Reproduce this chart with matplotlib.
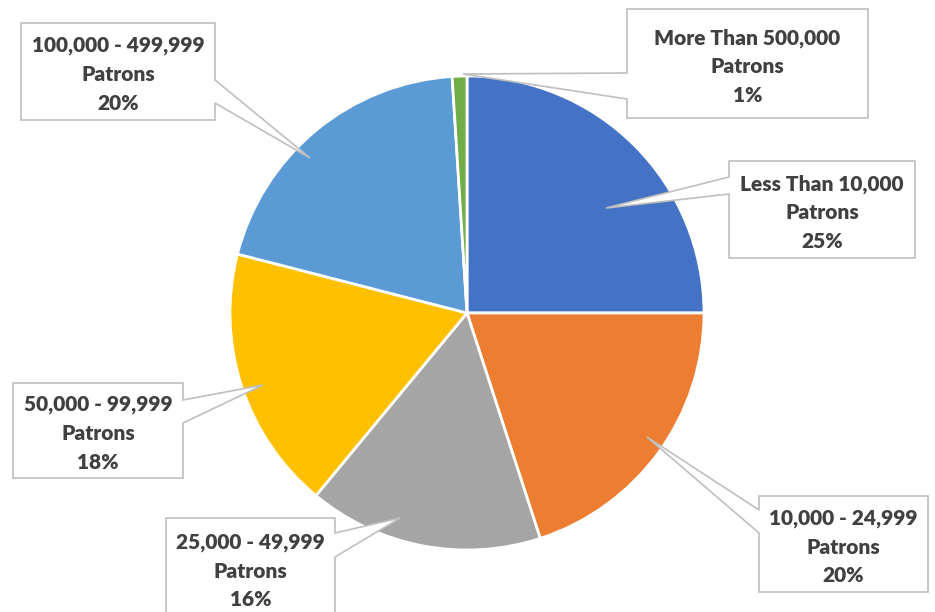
import matplotlib
matplotlib.use("Agg")
import matplotlib.pyplot as plt
from matplotlib.patches import Polygon

W, H = 935, 612

categories = ["Less Than 10,000\nPatrons", "10,000 - 24,999\nPatrons",
              "25,000 - 49,999\nPatrons", "50,000 - 99,999\nPatrons",
              "100,000 - 499,999\nPatrons", "More Than 500,000\nPatrons"]
shares = [25, 20, 16, 18, 20, 1]
colors = ["#4472C4", "#ED7D31", "#A5A5A5", "#FFC000", "#5B9BD5", "#70AD47"]

# callout layout in pixels: box (x0, y0, x1, y1), side of the pointer,
# pointer base span along that side, pointer tip
callouts = [
    ((729, 161, 915, 258), "left", (177, 194), (606, 208)),
    ((759, 496, 928, 592), "left", (510, 533), (647, 437)),
    ((166, 518, 335, 625), "right", (533, 557), (400, 518)),
    ((13, 383, 183, 478), "right", (400, 423), (263, 385)),
    ((21, 23, 215, 120), "right", (80, 103), (310, 158)),
    ((627, 9, 868, 118), "left", (73, 99), (463, 74)),
]

fig = plt.figure(figsize=(W / 100, H / 100), dpi=100)
ax = fig.add_axes([0, 0, 1, 1])


def px(x, y):
    return (x, H - y)


ax.pie(shares, colors=colors, startangle=90, counterclock=False,
       center=px(467, 313), radius=237, frame=True,
       wedgeprops=dict(edgecolor="white", linewidth=2))
ax.set_xlim(0, W)
ax.set_ylim(0, H)
ax.axis("off")

for cat, share, (box, side, (b1, b2), tip) in zip(categories, shares, callouts):
    x0, y0, x1, y1 = box
    if side == "left":
        pts = [(x0, y0), (x1, y0), (x1, y1), (x0, y1), (x0, b2), tip, (x0, b1)]
    else:
        pts = [(x0, y0), (x1, y0), (x1, b1), tip, (x1, b2), (x1, y1), (x0, y1)]
    ax.add_patch(Polygon([px(*p) for p in pts], closed=True, facecolor="white",
                         edgecolor="#BFBFBF", linewidth=1.2, zorder=3))
    cx, cy = (x0 + x1) / 2, (y0 + y1) / 2
    if y1 > H:
        cy = y0 + 50
    ax.text(*px(cx, cy + 3), f"{cat}\n{share}%", ha="center", va="center",
            fontsize=15, fontweight="heavy", family="Lato", color="#404040",
            linespacing=1.6, zorder=4)

fig.savefig("out.png", dpi=100)
